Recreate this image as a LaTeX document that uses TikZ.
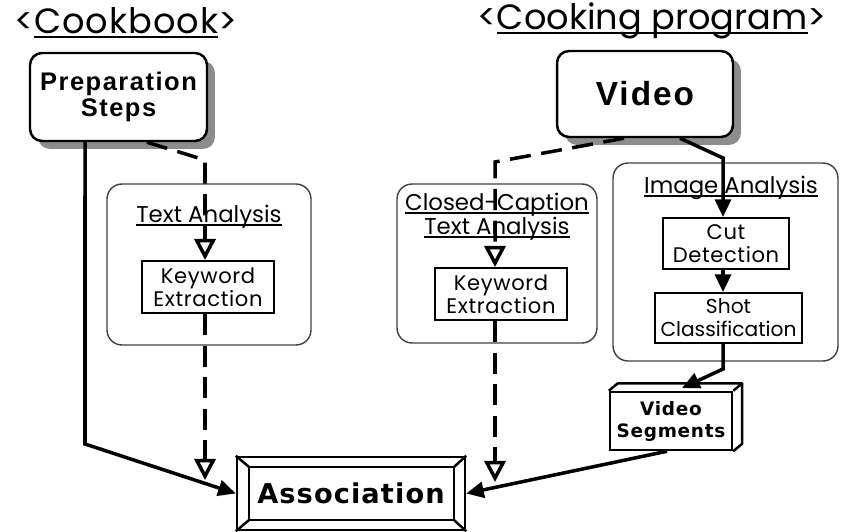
\documentclass[tikz,border=0pt]{standalone}
\usepackage{fontspec}
\setmainfont{Poppins}
\newfontfamily\widefont[LetterSpace=3]{Poppins}
\newfontfamily\boxfont[LetterSpace=6]{Liberation Sans}
\newfontfamily\segfont[LetterSpace=4]{DejaVu Sans}
\usetikzlibrary{arrows.meta,shadows}

\newcommand\ulin[1]{\setbox0\hbox{#1}\rlap{\rule[-0.13em]{\wd0}{0.07em}}\box0}

\begin{document}
\begin{tikzpicture}
    [x=0.02cm, y=-0.02cm,
     src/.style={rounded corners=0.24cm, draw, line width=1.4pt, fill=white, align=center,
       drop shadow={shadow xshift=0.16cm, shadow yshift=-0.16cm, fill=black!45, opacity=1}},
     grp/.style={rounded corners=0.3cm, draw=black!75, line width=0.8pt},
     proc/.style={draw, line width=1.1pt, align=center, inner sep=0pt, font=\widefont\fontsize{12}{13}\selectfont},
     lbl/.style={align=center, font=\fontsize{13}{13.5}\selectfont},
     flow/.style={line width=2pt, -{Triangle[length=10pt,width=9pt]}},
     kw/.style={line width=2pt, dash pattern=on 12pt off 6pt, -{Triangle[open,length=12pt,width=12pt,fill=white]}}]
    \useasboundingbox (0,0) rectangle (841,531);
    % titles
    \node[font=\widefont\fontsize{20}{24}\selectfont] (cb) at (126,23) {<\ulin{Cookbook}>};
    \node[font=\fontsize{20}{24}\selectfont] (cp) at (652,21) {<\ulin{Cooking program}>};
    % analysis groups
    \node[grp, minimum width=4.08cm, minimum height=3.22cm] (tag) at (209,264.5) {};
    \node[grp, minimum width=4.0cm, minimum height=3.18cm] (ccg) at (497,263.5) {};
    \node[grp, minimum width=4.5cm, minimum height=3.96cm] (iag) at (725.5,262) {};
    \node[lbl] (tal) at (209,217) {\ulin{Text Analysis}};
    \node[lbl] (ccl) at (497,217) {\ulin{Closed-Caption}\\\ulin{Text Analysis}};
    \node[lbl] (ial) at (731,188) {\ulin{Image Analysis}};
    \node[proc, minimum width=2.64cm, minimum height=1.04cm] (kw1) at (208,287) {Keyword\\Extraction};
    \node[proc, minimum width=2.64cm, minimum height=1.04cm] (kw2) at (501,294) {Keyword\\Extraction};
    \node[proc, minimum width=2.52cm, minimum height=1.02cm] (cut) at (726,243.5) {Cut\\Detection};
    \node[proc, minimum width=2.94cm, minimum height=1.0cm, font=\fontsize{11.5}{13}\selectfont] (shot) at (728.5,318) {Shot\\Classification};
    % sources
    \node[src, minimum width=3.54cm, minimum height=1.76cm, font=\boxfont\bfseries\fontsize{14.5}{15}\selectfont] (prep) at (118.5,97) {Preparation\\Steps};
    \node[src, minimum width=3.52cm, minimum height=1.72cm, font=\boxfont\bfseries\fontsize{19}{22}\selectfont] (video) at (645,94) {Video};
    % video segments
    \node[draw, line width=1.4pt, minimum width=2.44cm, minimum height=1.16cm, align=center, font=\segfont\bfseries\fontsize{10.5}{12.5}\selectfont] (vs) at (671,421) {Video\\Segments};
    \draw[line width=1.4pt, line join=round] (vs.north west) -- ++(0.18cm,0.15cm) -| ([shift={(0.18cm,0.15cm)}]vs.south east) -- (vs.south east) (vs.north east) -- ++(0.18cm,0.15cm);
    % association
    \node[draw, line width=1.4pt, minimum width=4.56cm, minimum height=1.46cm, font=\segfont\bfseries\fontsize{15.5}{18}\selectfont] (assoc) at (351,493.5) {Association};
    \draw[line width=1.4pt] ([shift={(0.26cm,-0.22cm)}]assoc.north west) rectangle ([shift={(-0.24cm,0.22cm)}]assoc.south east);
    \foreach \c/\dx/\dy in {north west/0.26/-0.22, north east/-0.24/-0.22, south west/0.26/0.22, south east/-0.24/0.22}
      \draw[line width=1.4pt] (assoc.\c) -- ([shift={(\dx cm,\dy cm)}]assoc.\c);
    % connectors
    \coordinate (pc) at (85,444);
    \coordinate (pd) at (205,160);
    \coordinate (pe) at (205,480);
    \coordinate (vd) at (495,162);
    \coordinate (ve) at (495,482);
    \coordinate (vb) at (723,158);
    \coordinate (vc) at (723,369);
    \coordinate (vt) at (682,388);
    \draw[flow] ([xshift=-0.67cm]prep.south) -- (pc) -- (assoc.west);
    \draw[kw] ([xshift=0.57cm]prep.south) -- (pd) -- (pd |- kw1.north);
    \draw[kw] (pd |- kw1.south) -- (pe);
    \draw[kw] ([xshift=-0.42cm]video.south) -- (vd) -- (vd |- kw2.north);
    \draw[kw] (vd |- kw2.south) -- (ve);
    \draw[flow] ([xshift=0.7cm]video.south) -- (vb) -- (vb |- cut.north);
    \draw[flow] (vb |- cut.south) -- (vb |- shot.north);
    \draw[flow] (vb |- shot.south) -- (vc) -- (vt);
    \draw[flow] ([xshift=-0.08cm]vs.south) -- (assoc.east);
\end{tikzpicture}
\end{document}
